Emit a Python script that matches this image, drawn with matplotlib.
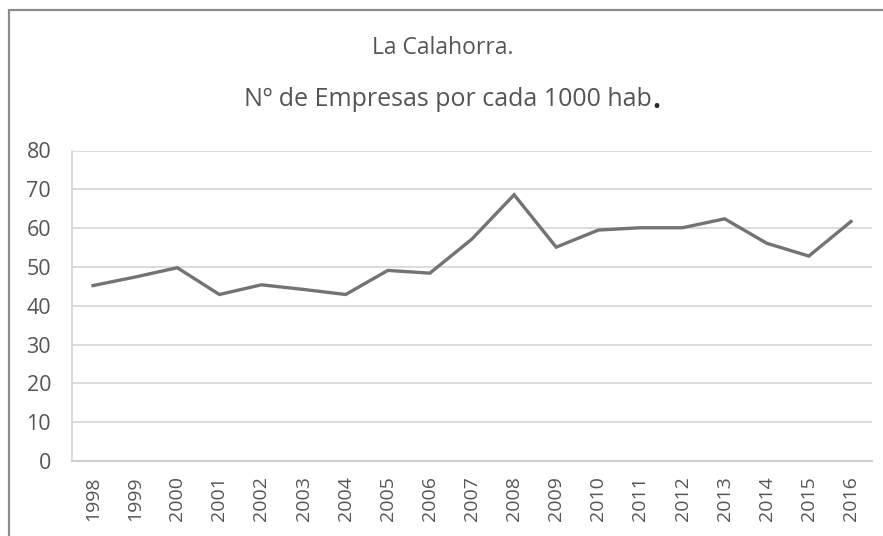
import matplotlib
matplotlib.use("Agg")
import matplotlib.pyplot as plt
from matplotlib.patches import Rectangle

years = ["1998", "1999", "2000", "2001", "2002", "2003", "2004", "2005", "2006", "2007",
         "2008", "2009", "2010", "2011", "2012", "2013", "2014", "2015", "2016"]
empresas = [45.2, 47.4, 49.8, 42.9, 45.4, 44.2, 42.9, 49.1, 48.4, 57.2,
            68.6, 55.1, 59.5, 60.1, 60.1, 62.4, 56.1, 52.8, 61.7]
y_ticks = [0, 10, 20, 30, 40, 50, 60, 70, 80]
title_1 = "La Calahorra."
title_2 = "Nº de Empresas por cada 1000 hab"

plt.rcParams["font.family"] = ["Open Sans", "DejaVu Sans"]
text_col = "#555555"

W, H = 883, 536
fig = plt.figure(figsize=(W / 100, H / 100), dpi=100)

# outer chart frame
fig.patches.append(Rectangle((9 / W, -0.05), 1.1, 1 - 10 / H + 0.05,
                             transform=fig.transFigure, fill=False,
                             edgecolor="#8c8c8c", linewidth=1.6))

left, right, top, bottom = 72, 872, 150.5, 461
ax = fig.add_axes([left / W, 1 - bottom / H, (right - left) / W, (bottom - top) / H])

x = list(range(len(years)))
ax.plot(x, empresas, color="#737373", linewidth=2.4, solid_joinstyle="miter")

ax.set_xlim(-0.5, len(years) - 0.5)
ax.set_ylim(0, 80)
ax.set_yticks(y_ticks)
ax.set_xticks(x)
ax.set_xticklabels(years, rotation=90)
ax.grid(axis="y", color="#d9d9d9", linewidth=1.3)
ax.set_axisbelow(True)
for s in ["top", "right"]:
    ax.spines[s].set_visible(False)
ax.spines["left"].set_color("#d9d9d9")
ax.spines["bottom"].set_color("#d0d0d0")
ax.spines["left"].set_linewidth(1.3)
ax.spines["bottom"].set_linewidth(1.5)
ax.tick_params(axis="both", length=0, colors=text_col)
ax.tick_params(axis="y", pad=15, labelsize=15.5)
ax.tick_params(axis="x", pad=11, labelsize=14)

fig.text(443 / W, 1 - 48 / H, title_1, ha="center", va="center",
         fontsize=16.5, color=text_col)
t2 = fig.text(448 / W, 1 - 100 / H, title_2, ha="center", va="center",
              fontsize=18, color=text_col)

# bold full stop right after the second title line
fig.canvas.draw()
bb = t2.get_window_extent()
fig.text(bb.x1 / W + 1 / W, 1 - 100 / H, ".", ha="left", va="center",
         fontsize=20, fontweight="bold", color="#262626")

fig.savefig("out.png", dpi=100)
